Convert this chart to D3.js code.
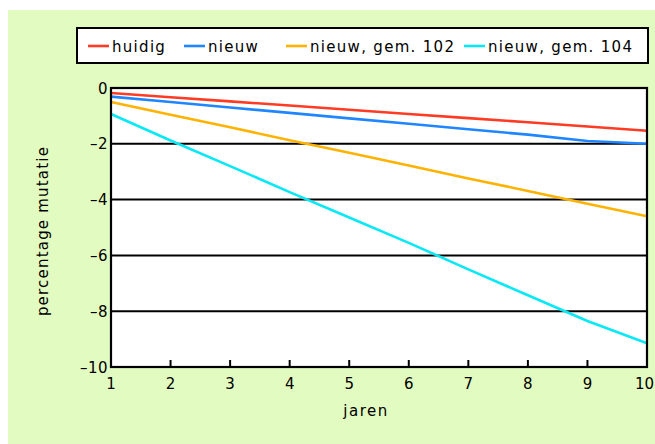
<!DOCTYPE html>
<html><head><meta charset="utf-8">
<script src="https://cdn.jsdelivr.net/npm/d3@7"></script>
<style>body{margin:0;background:#fff}svg{display:block}text{font-family:"DejaVu Sans",sans-serif;fill:#000}</style>
</head><body>
<script>
const years = [1,2,3,4,5,6,7,8,9,10];
const huidig = [-0.18,-0.33,-0.48,-0.63,-0.78,-0.93,-1.08,-1.23,-1.38,-1.53];
const nieuw = [-0.31,-0.5,-0.7,-0.89,-1.09,-1.28,-1.48,-1.67,-1.9,-2.0];
const gem102 = [-0.5,-0.96,-1.41,-1.87,-2.32,-2.78,-3.24,-3.69,-4.15,-4.6];
const gem104 = [-0.93,-1.88,-2.8,-3.73,-4.64,-5.55,-6.5,-7.43,-8.35,-9.15];
const seriesNames = ["huidig","nieuw","nieuw, gem. 102","nieuw, gem. 104"];
const seriesColors = ["#ff3b24","#1f86ff","#ffb300","#0ae8f5"];
const yTicks = [0,-2,-4,-6,-8,-10];
const xTicks = [1,2,3,4,5,6,7,8,9,10];

const W=655,H=444;
const svg=d3.select("body").append("svg").attr("width",W).attr("height",H);
svg.append("rect").attr("x",8).attr("y",10).attr("width",W-8).attr("height",H-10).attr("fill","#e2fbc1");

const L=111,R=647,T=88,B=367;
const x=d3.scaleLinear().domain([1,10]).range([L,R]);
const y=d3.scaleLinear().domain([-10,0]).range([B,T]);

svg.append("rect").attr("x",L).attr("y",T).attr("width",R-L).attr("height",B-T).attr("fill","#fff");

// gridlines
svg.append("g").selectAll("line").data(yTicks.filter(d=>d>-10&&d<0)).join("line")
  .attr("x1",L).attr("x2",R).attr("y1",d=>y(d)).attr("y2",d=>y(d)).attr("stroke","#000").attr("stroke-width",2);

// x ticks inward
svg.append("g").selectAll("line").data(xTicks.slice(1,-1)).join("line")
  .attr("x1",d=>x(d)).attr("x2",d=>x(d)).attr("y1",B).attr("y2",B-7).attr("stroke","#000").attr("stroke-width",2);

const all=[huidig,nieuw,gem102,gem104];
const line=d3.line().x((d,i)=>x(years[i])).y(d=>y(d));
all.forEach((s,k)=>{
  svg.append("path").datum(s).attr("d",line).attr("fill","none").attr("stroke",seriesColors[k]).attr("stroke-width",2.6);
});

svg.append("rect").attr("x",L).attr("y",T).attr("width",R-L).attr("height",B-T).attr("fill","none").attr("stroke","#000").attr("stroke-width",2.2);

// tick labels
svg.append("g").selectAll("text").data(yTicks).join("text")
  .attr("x",L-3).attr("y",d=>y(d)+5.5).attr("text-anchor","end").attr("font-size",15).attr("letter-spacing",0.5)
  .text(d=>d===0?"0":"\u2013"+Math.abs(d));
svg.append("g").selectAll("text").data(xTicks).join("text")
  .attr("x",d=>d===10?W-1:x(d)).attr("y",B+22).attr("text-anchor",d=>d===10?"end":"middle")
  .attr("font-size",15).text(d=>d);

svg.append("text").attr("x",366).attr("y",416).attr("text-anchor","middle").attr("font-size",15).attr("letter-spacing",1.5).text("jaren");
svg.append("text").attr("transform","translate(48,231) rotate(-90)").attr("text-anchor","middle").attr("font-size",15).attr("letter-spacing",1.2).text("percentage mutatie");

// legend
svg.append("rect").attr("x",77).attr("y",28).attr("width",571).attr("height",35).attr("fill","#fff").attr("stroke","#000").attr("stroke-width",2);
const lx=[88,184,286,464];
seriesNames.forEach((n,k)=>{
  svg.append("line").attr("x1",lx[k]).attr("x2",lx[k]+21).attr("y1",46).attr("y2",46).attr("stroke",seriesColors[k]).attr("stroke-width",2.6);
  svg.append("text").attr("x",lx[k]+24).attr("y",51.5).attr("font-size",15).attr("letter-spacing",1.3).text(n);
});
</script>
</body></html>
